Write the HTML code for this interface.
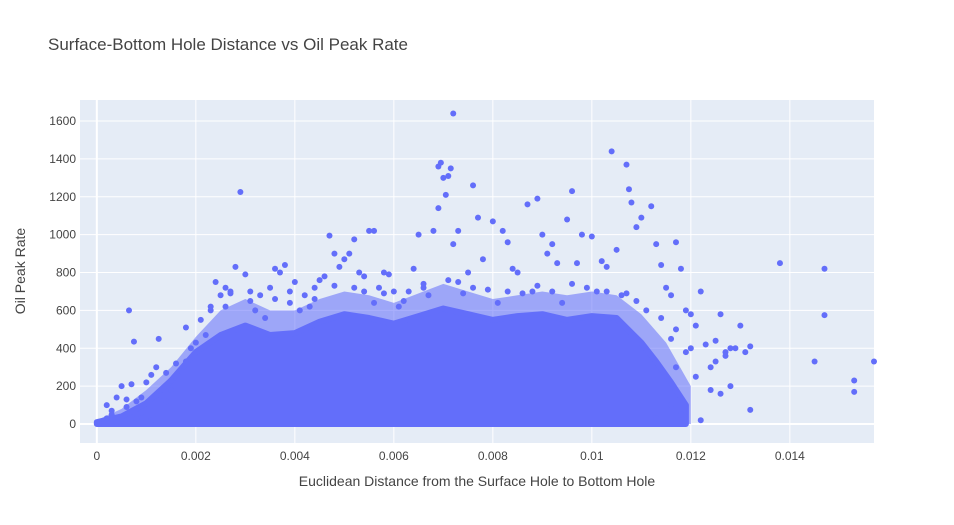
<!DOCTYPE html>
<html><head><meta charset="utf-8">
<style>
html,body{margin:0;padding:0;background:#fff;}
svg{display:block;font-family:"Liberation Sans",Arial,sans-serif;}
</style></head>
<body>
<svg id="chart" width="954" height="525">
  <text x="48" y="50" font-size="17" fill="#444">Surface-Bottom Hole Distance vs Oil Peak Rate</text>
  <rect x="80" y="100" width="794" height="343" fill="#e5ecf6"/>
  <g id="grid"></g>
  <g id="marks"></g>
  <g id="ticks"></g>
  <text x="477" y="486" font-size="14" fill="#444" text-anchor="middle">Euclidean Distance from the Surface Hole to Bottom Hole</text>
  <text x="25" y="271" font-size="14" fill="#444" text-anchor="middle" transform="rotate(-90 25 271)">Oil Peak Rate</text>
</svg>
<script>
const xTicks=[0,0.002,0.004,0.006,0.008,0.01,0.012,0.014];
const xTickLabels=["0","0.002","0.004","0.006","0.008","0.01","0.012","0.014"];
const yTicks=[0,200,400,600,800,1000,1200,1400,1600];
const yTickLabels=["0","200","400","600","800","1000","1200","1400","1600"];
// dense core envelope (top of solid mass) by distance bin
const coreX=[0,0.0005,0.001,0.0015,0.002,0.0025,0.003,0.0035,0.004,0.0045,0.005,0.0055,0.006,0.0065,0.007,0.0075,0.008,0.0085,0.009,0.0095,0.01,0.0105,0.011,0.0113,0.0116,0.0119];
const coreTop=[10,40,110,230,380,470,520,470,480,540,580,560,530,570,610,580,550,570,580,550,570,560,430,330,220,100];
// sparser fringe envelope
const fringeX=[0,0.0005,0.001,0.0015,0.002,0.0025,0.003,0.0035,0.004,0.0045,0.005,0.0055,0.006,0.0065,0.007,0.0075,0.008,0.0085,0.009,0.0095,0.01,0.0105,0.011,0.0115,0.012];
const fringeTop=[20,80,180,300,460,600,660,600,600,660,700,680,640,690,740,700,660,680,700,680,700,680,580,430,200];
// individual scattered points
const ptX=[0.00005,0.0002,0.0003,0.0004,0.0004,0.0005,0.0006,0.00065,0.0007,0.00075,0.0008,0.0009,0.001,0.0011,0.0012,0.00125,0.0013,0.0014,0.0015,0.0016,0.0017,0.0018,0.0019,0.002,0.0021,0.0022,0.0023,0.0024,0.0025,0.0026,0.0027,0.0028,0.0029,0.003,0.0031,0.0032,0.0033,0.0035,0.0036,0.0037,0.0038,0.0039,0.004,0.0042,0.0043,0.0044,0.0045,0.0046,0.0047,0.0048,0.0049,0.005,0.0051,0.0052,0.0053,0.0054,0.0055,0.0056,0.0057,0.0058,0.0059,0.006,0.0062,0.0064,0.0065,0.0066,0.0068,0.0069,0.00695,0.007,0.00705,0.0069,0.0071,0.0072,0.00715,0.0073,0.0072,0.0075,0.0076,0.0077,0.0078,0.008,0.0082,0.0083,0.0084,0.0085,0.0087,0.0089,0.009,0.0091,0.0092,0.0093,0.0095,0.0096,0.0097,0.0098,0.01,0.0102,0.0103,0.0104,0.0105,0.0107,0.01075,0.0108,0.0109,0.011,0.0112,0.0113,0.0114,0.0115,0.0116,0.0117,0.0118,0.0119,0.012,0.0121,0.0122,0.0123,0.0122,0.0124,0.0125,0.0126,0.0127,0.0128,0.0129,0.013,0.0131,0.0132,0.0132,0.0138,0.0145,0.0147,0.0147,0.0153,0.0153,0.0157,0.0118,0.0116,0.0113,0.0119,0.0121,0.0124,0.0126,0.0128,0.0127,0.0125,0.012,0.0117,0.0116,0.0026,0.0034,0.0041,0.0056,0.0061,0.0067,0.0074,0.0081,0.0088,0.0094,0.0101,0.0106,
0.0023,0.0027,0.0031,0.0036,0.0039,0.0044,0.0048,0.0052,0.0054,0.0058,0.0063,0.0066,0.0071,0.0073,0.0076,0.0079,0.0083,0.0086,0.0089,0.0092,0.0096,0.0099,0.0103,0.0107,0.0109,0.0111,0.0114,0.0117,0.0003,0.0006,0.0009,0.0012,0.0015,0.0018,0.0002,0.0008,0.0011,0.0014];
const ptY=[5,30,70,10,140,200,130,600,210,435,120,140,220,260,300,450,150,270,230,320,280,510,400,430,550,470,600,750,680,720,700,830,1225,790,650,600,680,720,820,800,840,700,750,680,620,720,760,780,995,900,830,870,900,975,800,780,1020,1020,720,800,790,700,650,820,1000,740,1020,1360,1380,1300,1210,1140,1310,1640,1350,1020,950,800,1260,1090,870,1070,1020,960,820,800,1160,1190,1000,900,950,850,1080,1230,850,1000,990,860,830,1440,920,1370,1240,1170,1040,1090,1150,950,840,720,680,960,820,600,580,520,700,420,20,300,440,580,380,200,400,520,380,410,75,850,330,820,575,230,170,330,50,100,30,380,250,180,160,400,360,330,400,300,450,620,560,600,640,620,680,690,640,700,640,700,680,
620,690,700,660,640,660,730,720,700,690,700,720,760,750,720,710,700,690,730,700,740,720,700,690,650,600,560,500,50,90,60,150,180,330,100,30,20,120];
const X0=-0.00034,X1=0.0157,Y0=-100,Y1=1711;
const L=80,R=874,T=100,B=443;
const sx=v=>L+(v-X0)/(X1-X0)*(R-L);
const sy=v=>B-(v-Y0)/(Y1-Y0)*(B-T);
const NS="http://www.w3.org/2000/svg";
const grid=document.getElementById('grid'),marks=document.getElementById('marks'),ticks=document.getElementById('ticks');
function mk(tag,attrs,parent){const e=document.createElementNS(NS,tag);for(const k in attrs)e.setAttribute(k,attrs[k]);parent.appendChild(e);return e;}
xTicks.forEach((t,i)=>{
  const l=mk('line',{x1:sx(t),x2:sx(t),y1:T,y2:B,stroke:'#fff','stroke-width':t===0?2:1},grid);
  
  
  const tx=mk('text',{x:sx(t),y:B+17,'font-size':12,fill:'#444','text-anchor':'middle'},ticks);
  tx.textContent=xTickLabels[i];
  
  
});
yTicks.forEach((t,i)=>{
  const l=mk('line',{x1:L,x2:R,y1:sy(t),y2:sy(t),stroke:'#fff','stroke-width':t===0?2:1},grid);
  
  
  const tx=mk('text',{x:L-4,y:sy(t)+4,'font-size':12,fill:'#444','text-anchor':'end'},ticks);
  tx.textContent=yTickLabels[i];
  
  
});
function envPath(xs,ys){
  let d='M'+sx(xs[0])+','+sy(0);
  xs.forEach((x,i)=>{d+=' L'+sx(x)+','+sy(ys[i]);});
  d+=' L'+sx(xs[xs.length-1])+','+sy(0)+' Z';
  return d;
}
const fringe=mk('path',{d:envPath(fringeX,fringeTop),fill:'#636efa','fill-opacity':0.55,stroke:'none'},marks);


const core=mk('path',{d:envPath(coreX,coreTop),fill:'#636efa',stroke:'#636efa','stroke-width':6,'stroke-linejoin':'round'},marks);


ptX.forEach((x,i)=>{
  const c=mk('circle',{cx:sx(x),cy:sy(ptY[i]),r:3,fill:'#636efa'},marks);
  
  
});
</script>
</body></html>
